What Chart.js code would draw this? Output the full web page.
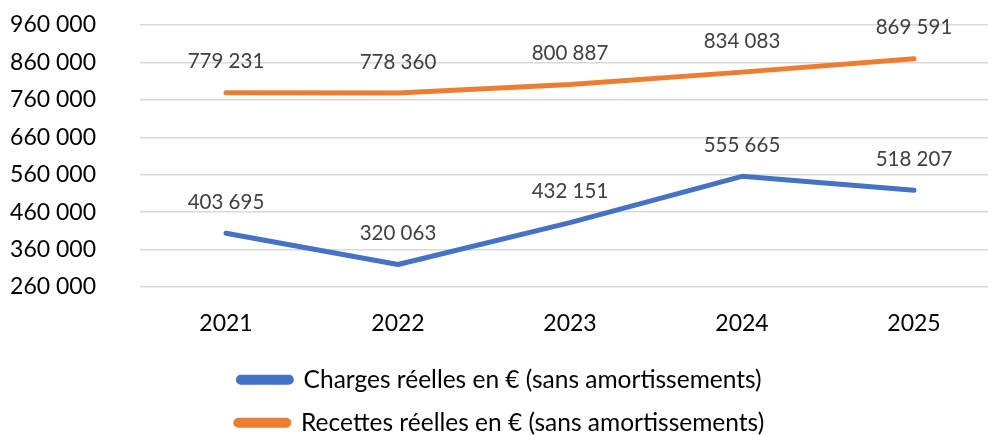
<!DOCTYPE html>
<html>
<head>
<meta charset="utf-8">
<script src="https://cdn.jsdelivr.net/npm/chart.js@4/dist/chart.umd.min.js"></script>
<style>
    html, body { margin: 0; padding: 0; background: #fff; overflow: hidden; }
    #wrap { width: 988px; height: 435px; overflow: hidden; }
    canvas { display: block; }
</style>
</head>
<body>
<div id="wrap"><canvas id="chart" width="1000" height="445"></canvas></div>
<script>
const years = ["2021", "2022", "2023", "2024", "2025"];
const charges = [403695, 320063, 432151, 555665, 518207];
const recettes = [779231, 778360, 800887, 834083, 869591];
const yMin = 260000;
const yMax = 960000;
const yStep = 100000;

const FONT = "Lato, 'Open Sans', sans-serif";

const formatNumber = (v) => String(v).replace(/\B(?=(\d{3})+(?!\d))/g, " ");

// draws the value above each point, like the excel labels
const valueLabels = {
    id: "valueLabels",
    afterDatasetsDraw(chart) {
        const ctx = chart.ctx;
        ctx.save();
        ctx.font = "20.5px " + FONT;
        ctx.fillStyle = "#404040";
        ctx.textAlign = "center";
        ctx.textBaseline = "middle";
        chart.data.datasets.forEach((ds, i) => {
            chart.getDatasetMeta(i).data.forEach((pt, j) => {
                ctx.fillText(formatNumber(ds.data[j]), pt.x, pt.y - 31);
            });
        });
        ctx.restore();
    },
};

const ctx = document.getElementById("chart").getContext("2d");
new Chart(ctx, {
    type: "line",
    data: {
        labels: years,
        datasets: [
            {
                label: "Charges réelles en € (sans amortissements)",
                data: charges,
                borderColor: "#4472C4",
                backgroundColor: "#4472C4",
                borderWidth: 5,
                borderCapStyle: "round",
                borderJoinStyle: "round",
                pointRadius: 0,
                tension: 0,
            },
            {
                label: "Recettes réelles en € (sans amortissements)",
                data: recettes,
                borderColor: "#ED7D31",
                backgroundColor: "#ED7D31",
                borderWidth: 5,
                borderCapStyle: "round",
                borderJoinStyle: "round",
                pointRadius: 0,
                tension: 0,
            },
        ],
    },
    options: {
        responsive: false,
        animation: false,
        devicePixelRatio: 1,
        layout: { padding: { top: 25, left: 0, right: 0, bottom: 0 } },
        plugins: {
            tooltip: { enabled: false },
            legend: {
                position: "bottom",
                labels: {
                    boxWidth: 53,
                    boxHeight: 5,
                    padding: 18.5,
                    color: "#000",
                    useBorderRadius: true,
                    borderRadius: 2.5,
                    font: { family: FONT, size: 24.5 },
                },
            },
        },
        scales: {
            x: {
                offset: true,
                grid: { display: false, drawTicks: false },
                border: { display: false },
                ticks: {
                    color: "#000",
                    padding: 22.5,
                    font: { family: FONT, size: 23 },
                },
                afterFit: (scale) => { scale.height = 62; },
            },
            y: {
                min: yMin,
                max: yMax,
                grid: {
                    color: "#d9d9d9",
                    lineWidth: 1.5,
                    drawTicks: true,
                    tickLength: 44,
                    tickColor: "rgba(0,0,0,0)",
                },
                border: { display: false },
                ticks: {
                    stepSize: yStep,
                    color: "#000",
                    padding: 0,
                    font: { family: FONT, size: 23 },
                    callback: (v) => formatNumber(v),
                },
                afterFit: (scale) => { scale.width = 140; },
            },
        },
    },
    plugins: [valueLabels],
});
</script>
</body>
</html>
